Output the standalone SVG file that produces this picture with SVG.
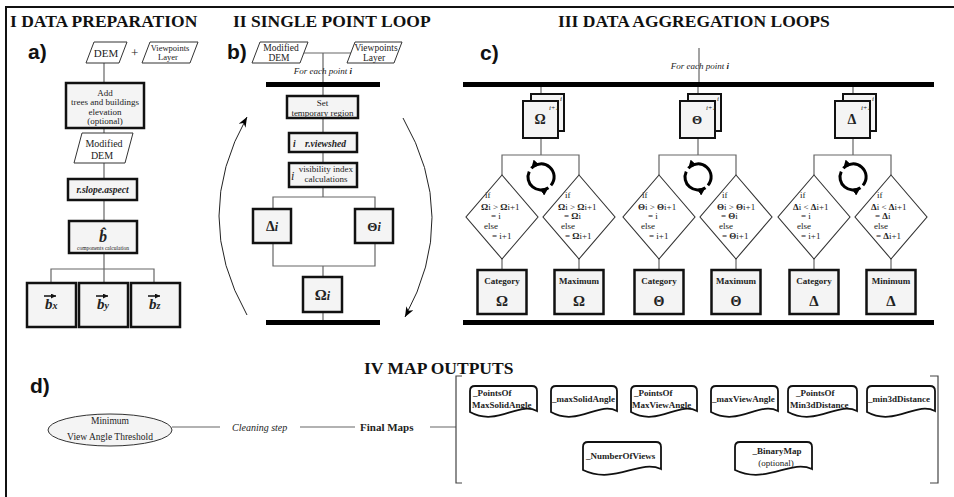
<svg xmlns="http://www.w3.org/2000/svg" width="954" height="497" viewBox="0 0 954 497">
<defs>
<style>
.t{font-family:"Liberation Serif","DejaVu Serif",serif;fill:#222}
.title{font-family:"Liberation Serif",serif;font-weight:bold;font-size:17.5px;fill:#111}
.lab{font-family:"Liberation Sans",Arial,sans-serif;font-weight:bold;font-size:21px;fill:#111}
.ln{stroke:#666;stroke-width:1.2;fill:none}
.box{fill:#f4f4f4;stroke:#111;stroke-width:2.5}
.sbox{fill:#f4f4f4;stroke:#111;stroke-width:2}
.para{fill:#fff;stroke:#333;stroke-width:1}
.dia{fill:#fff;stroke:#333;stroke-width:1.1}
.doc{fill:#fff;stroke:#111;stroke-width:1.8}
.bar{fill:#000}
.s9{font-size:9px}
.c{text-anchor:middle}
.b{font-weight:bold}
.i{font-style:italic}
.loop{fill:none;stroke:#000;stroke-width:3}
.arc{fill:none;stroke:#222;stroke-width:1}
</style>
<marker id="ah" viewBox="0 0 10 8" refX="10" refY="4" markerWidth="10" markerHeight="8" markerUnits="userSpaceOnUse" orient="auto"><path d="M0,0 L10,4 L0,8 L3,4 z" fill="#000"/></marker>
<marker id="lh" viewBox="0 0 8 8" refX="8" refY="4" markerWidth="8" markerHeight="8" markerUnits="userSpaceOnUse" orient="auto"><path d="M0,0 L8,4 L0,8 z" fill="#000"/></marker>
<marker id="vh" viewBox="0 0 6 6" refX="6" refY="3" markerWidth="5" markerHeight="5" markerUnits="userSpaceOnUse" orient="auto"><path d="M0,0 L6,3 L0,6 z" fill="#111"/></marker>
</defs>
<rect width="954" height="497" fill="#fff"/>
<path d="M6,497 V7 H954" fill="none" stroke="#111" stroke-width="2"/>

<!-- titles -->
<text class="title" x="10" y="27">I  DATA PREPARATION</text>
<text class="title" x="233" y="27">II  SINGLE POINT LOOP</text>
<text class="title" x="558" y="27">III  DATA AGGREGATION LOOPS</text>
<text class="title" x="364" y="374">IV  MAP OUTPUTS</text>
<text class="lab" x="28" y="59">a)</text>
<text class="lab" x="227" y="59">b)</text>
<text class="lab" x="480" y="60">c)</text>
<text class="lab" x="30" y="393">d)</text>

<!-- connectors -->
<g id="connectors">
<path class="ln" d="M104,63 V83 M104,128 V133 M104,163 V179 M104,200 V221 M104,253 V283 M51,283 V269 H154 V283"/>
<path class="ln" d="M304,53 H351 M323,53 V82 M323,87 V96 M323,118 V133 M323,152 V163 M323,187 V197 M273,209 V197 H375 V209 M273,243 V266 H375 V243 M323,266 V277 M323,312 V320"/>
<path class="arc" d="M247,315 Q191,216 247,117" marker-end="url(#ah)"/>
<path class="arc" d="M403,118 Q460,217 405,317" marker-end="url(#ah)"/>
<path class="ln" d="M699,48 V82"/>
<path class="ln" d="M541,87 V94 M541,138 V155 M502,175 V155 H579 V175 M502,259 V270 M579,259 V270"/>
<path class="ln" d="M698,87 V94 M698,138 V155 M659,175 V155 H736 V175 M659,259 V270 M736,259 V270"/>
<path class="ln" d="M853,87 V94 M853,138 V155 M814,175 V155 H891 V175 M814,259 V270 M891,259 V270"/>
<path class="ln" d="M172,427 H220 M300,427 H355 M430,427 H456"/>
<path d="M462,376 H456 V483 H462 M930,376 H938 V483 H930" fill="none" stroke="#444" stroke-width="1.2"/>
</g>

<!-- section a -->
<g id="a-dem"><polygon class="para" points="94,42 127,42 119,63 86,63"/><text class="t c" x="106" y="57" font-size="11">DEM</text></g>
<text class="t" x="131" y="57" font-size="13">+</text>
<g id="a-viewpoints"><polygon class="para" points="150,42 198,42 190,63 142,63"/><text class="t c" x="170" y="51" font-size="8.5">Viewpoints</text><text class="t c" x="168" y="60" font-size="8.5">Layer</text></g>
<g id="a-add"><rect class="box" x="66" y="83" width="78" height="45"/>
<text class="t c s9" x="105" y="96">Add</text><text class="t c s9" x="105" y="105">trees and buildings</text><text class="t c s9" x="105" y="115">elevation</text><text class="t c s9" x="105" y="124">(optional)</text></g>
<g id="a-moddem"><polygon class="para" points="82,133 133,133 125,163 74,163"/><text class="t c" x="104" y="147" font-size="10">Modified</text><text class="t c" x="102" y="159" font-size="10">DEM</text></g>
<g id="a-slope"><rect class="box" x="68" y="179" width="69" height="21"/><text class="t c b i" x="102.5" y="193" font-size="9.5">r.slope.aspect</text></g>
<g id="a-bhat"><rect class="box" x="69" y="221" width="68" height="32"/>
<text class="t c b i" x="103" y="242" font-size="16">b&#x302;</text>
<text class="t c" x="103" y="250" font-size="5.5">components calculation</text></g>
<g id="a-bx"><rect class="box" x="27" y="283" width="49" height="44"/>
<text class="t b i" x="45" y="309" font-size="15">b<tspan font-size="10" dy="0">x</tspan></text>
<path d="M44,296 H56" stroke="#111" stroke-width="1.5" marker-end="url(#vh)"/></g>
<g id="a-by"><rect class="box" x="79" y="283" width="49" height="44"/>
<text class="t b i" x="97" y="309" font-size="15">b<tspan font-size="10">y</tspan></text>
<path d="M96,296 H108" stroke="#111" stroke-width="1.5" marker-end="url(#vh)"/></g>
<g id="a-bz"><rect class="box" x="131" y="283" width="49" height="44"/>
<text class="t b i" x="149" y="309" font-size="15">b<tspan font-size="10">z</tspan></text>
<path d="M148,296 H160" stroke="#111" stroke-width="1.5" marker-end="url(#vh)"/></g>

<!-- section b -->
<g id="b-moddem"><polygon class="para" points="260,42 308,42 300,63 252,63"/><text class="t c" x="281" y="51" font-size="9.5">Modified</text><text class="t c" x="279" y="61" font-size="9.5">DEM</text></g>
<g id="b-viewpoints"><polygon class="para" points="355,42 402,42 394,63 347,63"/><text class="t c" x="376" y="51" font-size="9.5">Viewpoints</text><text class="t c" x="374" y="61" font-size="9.5">Layer</text></g>
<text class="t c i" x="323" y="74" font-size="9">For each point <tspan class="b">i</tspan></text>
<rect class="bar" x="266" y="82" width="114" height="5"/>
<g id="b-settemp"><rect class="box" x="287" y="96" width="71" height="22"/><text class="t c s9" x="322.5" y="106">Set</text><text class="t c s9" x="322.5" y="116">temporary region</text></g>
<g id="b-viewshed"><rect class="box" x="289" y="133" width="68" height="19"/><text class="t b i" x="293" y="147" font-size="9.5">i</text><text class="t b i" x="305" y="147" font-size="9.5">r.viewshed</text></g>
<g id="b-visindex"><rect class="box" x="289" y="163" width="68" height="24"/><text class="t i" x="291" y="180" font-size="12">i</text><text class="t c s9" x="326" y="172">visibility index</text><text class="t c s9" x="326" y="182">calculations</text></g>
<g id="b-delta"><rect class="box" x="253" y="209" width="38" height="34"/><text class="t c b" x="272" y="231" font-size="14">Δ<tspan class="i" font-size="12">i</tspan></text></g>
<g id="b-theta"><rect class="box" x="355" y="209" width="38" height="34"/><text class="t c b" x="374" y="231" font-size="13">Θ<tspan class="i" font-size="12">i</tspan></text></g>
<g id="b-omega"><rect class="box" x="303" y="277" width="39" height="35"/><text class="t c b" x="322.5" y="300" font-size="15">Ω<tspan class="i" font-size="12">i</tspan></text></g>
<rect class="bar" x="266" y="320" width="114" height="5"/>

<!-- section c -->
<text class="t c i" x="700" y="69" font-size="9">For each point <tspan class="b">i</tspan></text>
<rect class="bar" x="463" y="82" width="471" height="5"/>
<rect class="bar" x="463" y="320" width="471" height="5"/>

<!-- Omega group -->
<g id="c-omega-stack"><rect class="sbox" x="531" y="94" width="33" height="37"/><rect class="sbox" x="523" y="101" width="35" height="37"/>
<text class="t c b" x="540" y="124" font-size="14">Ω</text><text class="t c i" x="554" y="110" font-size="7">i+1</text><text class="t i" x="560" y="101" font-size="7">i</text></g>
<g id="c-omega-loop"><path class="loop" d="M550.96,185.36 A13,13 0 0 0 531.34,168.3" marker-end="url(#lh)"/><path class="loop" d="M529.22,171.51 A13,13 0 0 0 548.46,187.65" marker-end="url(#lh)"/></g>
<g id="c-omega-cat-if"><polygon class="dia" points="502,175 538,217 502,259 466,217"/>
<text class="t s9" x="485" y="198">if</text><text class="t s9" x="481" y="210"><tspan class="b">Ω</tspan>i &gt; <tspan class="b">Ω</tspan>i+1</text><text class="t s9" x="491" y="219">= i</text><text class="t s9" x="484" y="229">else</text><text class="t s9" x="492" y="239">= i+1</text></g>
<g id="c-omega-max-if"><polygon class="dia" points="579,175 615,217 579,259 543,217"/>
<text class="t s9" x="565" y="198">if</text><text class="t s9" x="558" y="210"><tspan class="b">Ω</tspan>i &gt; <tspan class="b">Ω</tspan>i+1</text><text class="t s9" x="564" y="219">= <tspan class="b">Ω</tspan>i</text><text class="t s9" x="561" y="229">else</text><text class="t s9" x="565" y="239">= <tspan class="b">Ω</tspan>i+1</text></g>
<g id="c-omega-cat"><rect class="box" x="477.5" y="270" width="49" height="44"/><text class="t c b s9" x="502" y="284">Category</text><text class="t c b" x="502" y="306" font-size="15">Ω</text></g>
<g id="c-omega-max"><rect class="box" x="554.5" y="270" width="49" height="44"/><text class="t c b s9" x="579" y="284">Maximum</text><text class="t c b" x="579" y="306" font-size="15">Ω</text></g>

<!-- Theta group -->
<g id="c-theta-stack"><rect class="sbox" x="688" y="94" width="33" height="37"/><rect class="sbox" x="680" y="101" width="35" height="37"/>
<text class="t c b" x="697" y="124" font-size="13">Θ</text><text class="t c i" x="711" y="110" font-size="7">i+1</text><text class="t i" x="717" y="101" font-size="7">i</text></g>
<g id="c-theta-loop"><path class="loop" d="M707.96,185.36 A13,13 0 0 0 688.34,168.3" marker-end="url(#lh)"/><path class="loop" d="M686.22,171.51 A13,13 0 0 0 705.46,187.65" marker-end="url(#lh)"/></g>
<g id="c-theta-cat-if"><polygon class="dia" points="659,175 695,217 659,259 623,217"/>
<text class="t s9" x="642" y="198">if</text><text class="t s9" x="638" y="210"><tspan class="b">Θ</tspan>i &gt; <tspan class="b">Θ</tspan>i+1</text><text class="t s9" x="648" y="219">= i</text><text class="t s9" x="641" y="229">else</text><text class="t s9" x="649" y="239">= i+1</text></g>
<g id="c-theta-max-if"><polygon class="dia" points="736,175 772,217 736,259 700,217"/>
<text class="t s9" x="722" y="198">if</text><text class="t s9" x="717" y="210"><tspan class="b">Θ</tspan>i &gt; <tspan class="b">Θ</tspan>i+1</text><text class="t s9" x="721" y="219">= <tspan class="b">Θ</tspan>i</text><text class="t s9" x="719" y="229">else</text><text class="t s9" x="722" y="239">= <tspan class="b">Θ</tspan>i+1</text></g>
<g id="c-theta-cat"><rect class="box" x="634.5" y="270" width="49" height="44"/><text class="t c b s9" x="659" y="284">Category</text><text class="t c b" x="659" y="306" font-size="14">Θ</text></g>
<g id="c-theta-max"><rect class="box" x="711.5" y="270" width="49" height="44"/><text class="t c b s9" x="736" y="284">Maximum</text><text class="t c b" x="736" y="306" font-size="14">Θ</text></g>

<!-- Delta group -->
<g id="c-delta-stack"><rect class="sbox" x="843" y="94" width="33" height="37"/><rect class="sbox" x="835" y="101" width="35" height="37"/>
<text class="t c b" x="852" y="124" font-size="14">Δ</text><text class="t c i" x="866" y="110" font-size="7">i+1</text><text class="t i" x="872" y="101" font-size="7">i</text></g>
<g id="c-delta-loop"><path class="loop" d="M862.96,185.36 A13,13 0 0 0 843.34,168.3" marker-end="url(#lh)"/><path class="loop" d="M841.22,171.51 A13,13 0 0 0 860.46,187.65" marker-end="url(#lh)"/></g>
<g id="c-delta-cat-if"><polygon class="dia" points="814,175 850,217 814,259 778,217"/>
<text class="t s9" x="800" y="198">if</text><text class="t s9" x="793" y="210"><tspan class="b">Δ</tspan>i &lt; <tspan class="b">Δ</tspan>i+1</text><text class="t s9" x="801" y="219">= i</text><text class="t s9" x="797" y="229">else</text><text class="t s9" x="801" y="239">= i+1</text></g>
<g id="c-delta-min-if"><polygon class="dia" points="891,175 927,217 891,259 855,217"/>
<text class="t s9" x="877" y="198">if</text><text class="t s9" x="871" y="210"><tspan class="b">Δ</tspan>i &lt; <tspan class="b">Δ</tspan>i+1</text><text class="t s9" x="875" y="219">= <tspan class="b">Δ</tspan>i</text><text class="t s9" x="874" y="229">else</text><text class="t s9" x="876" y="239">= <tspan class="b">Δ</tspan>i+1</text></g>
<g id="c-delta-cat"><rect class="box" x="789.5" y="270" width="49" height="44"/><text class="t c b s9" x="814" y="284">Category</text><text class="t c b" x="814" y="306" font-size="15">Δ</text></g>
<g id="c-delta-min"><rect class="box" x="866.5" y="270" width="49" height="44"/><text class="t c b s9" x="891" y="284">Minimum</text><text class="t c b" x="891" y="306" font-size="15">Δ</text></g>

<!-- section d -->
<g id="d-threshold"><ellipse cx="110" cy="430" rx="62" ry="16" fill="#f4f4f4" stroke="#333" stroke-width="1"/>
<text class="t c" x="110" y="424" font-size="9.5">Minimum</text><text class="t c" x="110" y="440" font-size="9.5">View Angle Threshold</text></g>
<text class="t i" x="232" y="431" font-size="10">Cleaning step</text>
<g id="d-finalmaps"><text class="t b" x="360" y="431" font-size="11">Final Maps</text></g>

<g id="doc1"><path class="doc" d="M470,412 V391 Q470,386 475,386 H532 Q537,386 537,391 V411 C518.2,401 496.8,427 470,412 Z"/><text class="t b s9" x="473" y="396">_PointsOf</text><text class="t b s9" x="472" y="408">MaxSolidAngle</text></g>
<g id="doc2"><path class="doc" d="M551,412 V391 Q551,386 556,386 H612 Q617,386 617,391 V411 C598.5,401 577.4,427 551,412 Z"/><text class="t b s9" x="552" y="402">_maxSolidAngle</text></g>
<g id="doc3"><path class="doc" d="M631,412 V391 Q631,386 636,386 H692 Q697,386 697,391 V411 C678.5,401 657.4,427 631,412 Z"/><text class="t b s9" x="634" y="396">_PointsOf</text><text class="t b s9" x="632" y="408">MaxViewAngle</text></g>
<g id="doc4"><path class="doc" d="M711,412 V391 Q711,386 716,386 H773 Q778,386 778,391 V411 C759.2,401 737.8,427 711,412 Z"/><text class="t b s9" x="712" y="402">_maxViewAngle</text></g>
<g id="doc5"><path class="doc" d="M788,412 V391 Q788,386 793,386 H852 Q857,386 857,391 V411 C837.7,401 815.6,427 788,412 Z"/><text class="t b s9" x="796" y="396">_PointsOf</text><text class="t b s9" x="790" y="408">Min3dDistance</text></g>
<g id="doc6"><path class="doc" d="M867,412 V391 Q867,386 872,386 H930 Q935,386 935,391 V411 C916,401 894.2,427 867,412 Z"/><text class="t b s9" x="868" y="402">_min3dDistance</text></g>
<g id="doc7"><path class="doc" d="M583,470 V447 Q583,442 588,442 H656 Q661,442 661,447 V469 C639.2,459 614.2,485 583,470 Z"/><text class="t b s9" x="586" y="459">_NumberOfViews</text></g>
<g id="doc8"><path class="doc" d="M735,470 V447 Q735,442 740,442 H807 Q812,442 812,447 V469 C790.4,459 765.8,485 735,470 Z"/><text class="t c b s9" x="777" y="454">_BinaryMap</text><text class="t c s9" x="776" y="466">(optional)</text></g>
</svg>
